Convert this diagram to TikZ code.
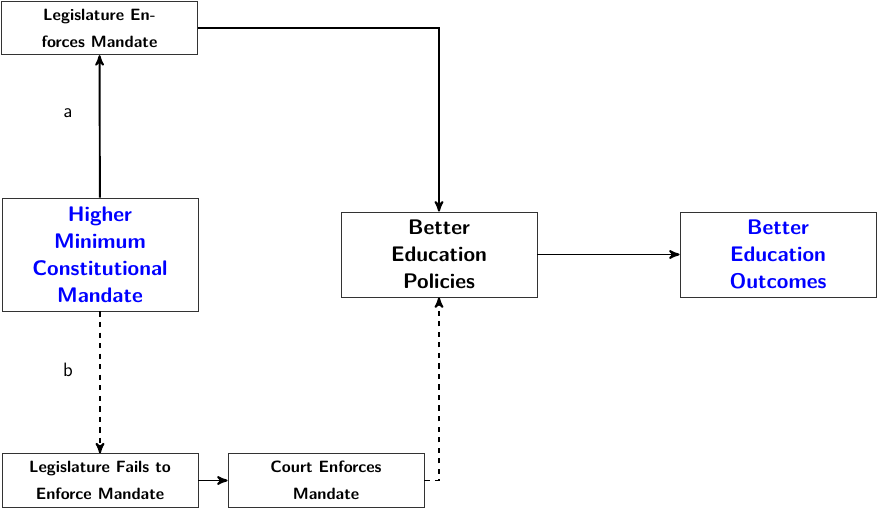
\documentclass[tikz,border=0pt]{standalone}
\usepackage{tikz}
\usetikzlibrary{positioning,arrows}
\tikzset{
box/.style={
  draw=black!80,
  line width=0.5pt,
  rectangle,
  minimum width=3.92cm,
  align=center,
  inner sep=2pt
},
bigbox/.style={box, font=\sffamily\bfseries\fontsize{12}{15.3}\selectfont},
smallbox/.style={box, minimum height=1.07cm, font=\sffamily\bfseries\fontsize{9.3}{15.3}\selectfont},
link/.style={-stealth', line width=1.1pt},
tag/.style={font=\sffamily\fontsize{11}{12}\selectfont},
}

\begin{document}
\begin{tikzpicture}[x=0.02cm, y=-0.02cm]
            \useasboundingbox (0,0) rectangle (877,509);
            \node[smallbox] (enforce) at (99.5,28) {Legislature En-\\forces Mandate};
            \node[bigbox, text=blue, minimum height=2.26cm] (mandate) at (100,254.5) {Higher\\Minimum\\Constitutional\\Mandate};
            \node[bigbox, minimum height=1.7cm] (policies) at (439,254.5) {Better\\Education\\Policies};
            \node[bigbox, text=blue, minimum height=1.7cm] (outcomes) at (778,254.5) {Better\\Education\\Outcomes};
            \node[smallbox] (fails) at (100,480.5) {Legislature Fails to\\Enforce Mandate};
            \node[smallbox] (court) at (326,480.5) {Court Enforces\\Mandate};
            \node[tag] (a) at (68,113) {a};
            \node[tag] (b) at (68,370) {b};
            \draw[link] (mandate) -- (enforce);
            \draw[link] (enforce) -| (policies);
            \draw[link, dashed] (mandate) -- (fails);
            \draw[link] (fails) -- (court);
            \draw[link, dashed] (court) -| (policies);
            \draw[link] (policies) -- (outcomes);
            \end{tikzpicture}
\end{document}
